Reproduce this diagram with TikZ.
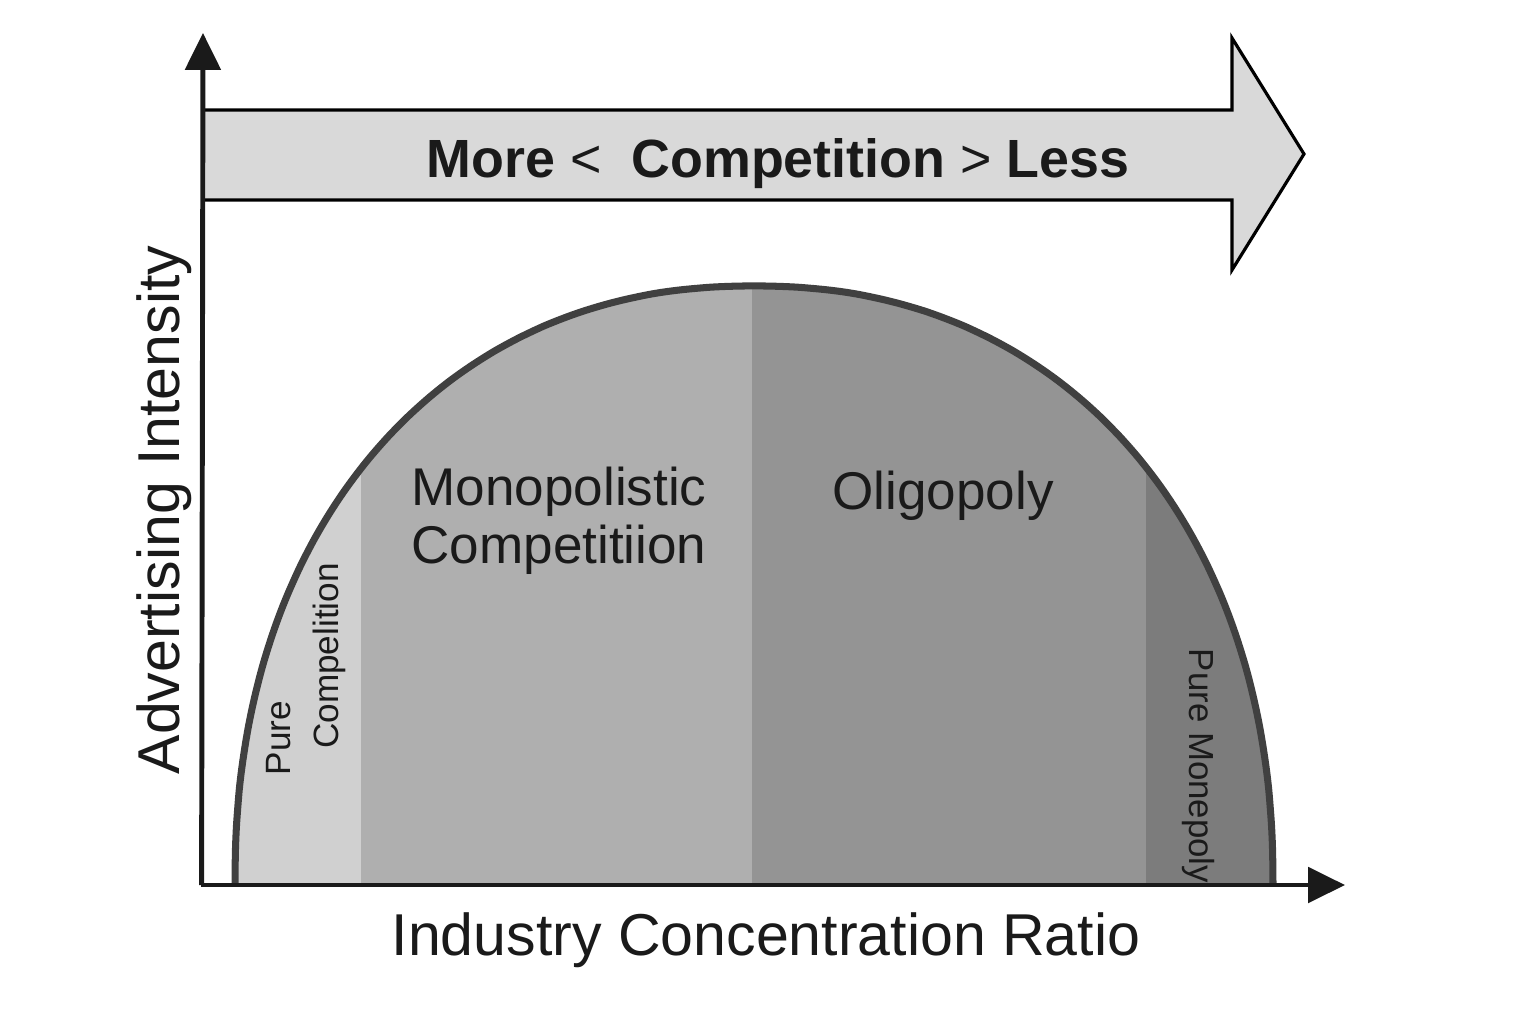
\documentclass[tikz,border=0pt]{standalone}
\usepackage{fontspec}
\setmainfont{Liberation Sans}
\usepackage{tikz}
\usepackage{xcolor}
\usetikzlibrary{arrows.meta}

\definecolor{ink}{HTML}{1A1A1A}
\definecolor{rim}{HTML}{404040}
\definecolor{band}{HTML}{D9D9D9}
\definecolor{pc}{HTML}{D0D0D0}
\definecolor{mc}{HTML}{AFAFAF}
\definecolor{ol}{HTML}{949494}
\definecolor{pm}{HTML}{7C7C7C}

% outline of the dome (a slightly squared half ellipse)
\def\dome{plot[domain=0:180, samples=120, smooth]
    ({754+519*sign(cos(\x))*pow(abs(cos(\x))+0.00001,0.92)}, {885-599*pow(abs(sin(\x))+0.00001,0.92)})}

\begin{document}
\begin{tikzpicture}[x=0.01cm, y=-0.01cm,
    axis/.style={draw=ink, line width=1.4pt, -{Triangle[length=10.5pt, width=10pt]}},
    txt/.style={text=ink, inner sep=0pt}]
        \useasboundingbox (0,0) rectangle (1536,1024);

        % market regions under the dome
        \begin{scope}
            \clip \dome -- cycle;
            \fill[pc] (220,270) rectangle (361,890);
            \fill[mc] (361,270) rectangle (752,890);
            \fill[ol] (752,270) rectangle (1146,890);
            \fill[pm] (1146,270) rectangle (1290,890);
        \end{scope}
        \draw[rim, line width=2pt] \dome;

        % competition arrow
        \draw[fill=band, draw=black, line width=0.9pt]
            (205,110) -- (1232,110) -- (1232,38) -- (1304,154) -- (1232,270) -- (1232,200) -- (205,200);

        % axes
        \coordinate (o) at (203,885);
        \coordinate (y) at (203,33);
        \coordinate (x) at (1345,885);
        \draw[axis] ([xshift=-0.4pt]o) -- (y);
        \draw[axis] ([xshift=-0.7pt]o) -- (x);

        \node[txt, anchor=base, font=\bfseries\fontsize{15.3}{18}\selectfont] (comp) at (778,177) {More {\mdseries<}\ \ Competition {\mdseries>} Less};
        \node[txt, align=center, font=\fontsize{15.1}{16.6}\selectfont] (mono) at (559,521) {Monopolistic\\Competitiion};
        \node[txt, anchor=base, font=\fontsize{15.1}{18}\selectfont] (olig) at (943,509) {Oligopoly};
        \node[txt, anchor=base, rotate=90, font=\fontsize{10}{12}\selectfont] (pure) at (290,738) {Pure};
        \node[txt, anchor=base, rotate=90, font=\fontsize{10}{12}\selectfont] (compel) at (338,656) {Compelition};
        \node[txt, anchor=base, rotate=-90, font=\fontsize{9.9}{12}\selectfont] (pmon) at (1189,766) {Pure Monepoly};
        \node[txt, anchor=base, rotate=90, font=\fontsize{16.8}{20}\selectfont] (ylab) at (179,510) {Advertising Intensity};
        \node[txt, anchor=base, font=\fontsize{16.8}{20}\selectfont] (xlab) at (766,955) {Industry Concentration Ratio};
    \end{tikzpicture}
\end{document}
